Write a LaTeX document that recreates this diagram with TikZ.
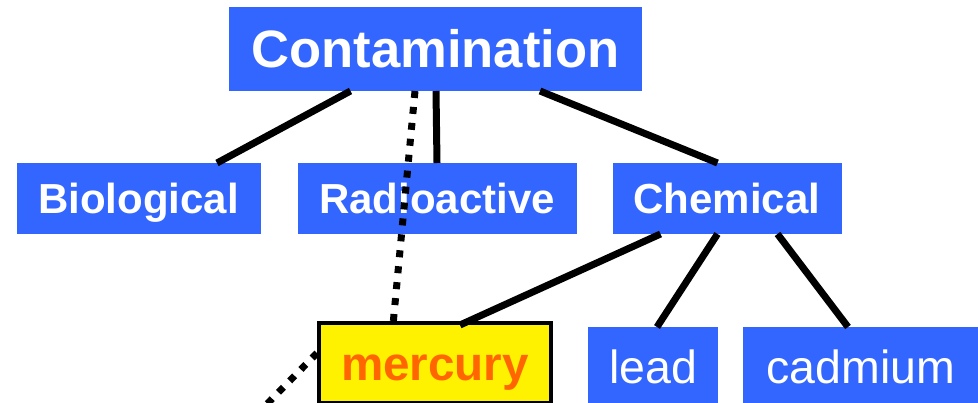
\documentclass[tikz,border=0pt]{standalone}
\usepackage{fontspec}
\setmainfont{Liberation Sans}
\usepackage{tikz}
\usetikzlibrary{positioning}
\definecolor{boxblue}{RGB}{51,102,255}
\definecolor{hgorange}{RGB}{255,102,0}
\tikzset{
b/.style={
  rectangle,
  inner sep=0pt,
  outer sep=0pt,
  align=center,
  fill=boxblue,
  text=white,
  text depth=0pt
  },
t/.style={
  b,
  text height=37.7pt,
  font=\fontsize{52.6}{60}\selectfont\bfseries
  },
m/.style={
  b,
  text height=30pt,
  minimum height=71pt,
  font=\fontsize{42}{50}\selectfont\bfseries
  },
l/.style={
  b,
  text height=33.3pt,
  minimum height=79pt,
  font=\fontsize{46.5}{54}\selectfont
  },
hg/.style={
  b,
  fill=yellow,
  draw=black,
  line width=4pt,
  text=hgorange,
  text height=34.1pt,
  minimum width=232pt,
  minimum height=80pt,
  font=\fontsize{47.6}{55}\selectfont\bfseries
  },
ln/.style={line width=7pt},
dt/.style={line width=7pt,dash pattern=on 7pt off 9pt}
}

\begin{document}
\begin{tikzpicture}[x=1pt,y=-1pt]
            \clip (0,0) rectangle (978,403);
            \node[t,minimum width=413pt,minimum height=84pt] (cont) at (435.5,49) {Contamination};
            \node[m,minimum width=244pt] (bio) at (138.5,198.5) {Biological};
            \node[m,minimum width=279pt] (radio) [right=37pt of bio] {Radioactive};
            \node[m,minimum width=229pt] (chem) [right=36pt of radio] {Chemical};
            \node[hg] (hg) at (435,363) {mercury};
            \node[l,minimum width=130pt] (pb) at (653,366.5) {lead};
            \node[l,minimum width=236pt] (cd) at (861,366.5) {cadmium};
            \coordinate (off) at (220,452);
            \path[ln]
            ([xshift=-85pt]cont.south) edge ([xshift=78.5pt]bio.north)
            ([xshift=0.5pt]cont.south) edge (radio.north)
            ([xshift=104.5pt]cont.south) edge ([xshift=-9.5pt]chem.north)
            ([xshift=-66.5pt]chem.south) edge ([xshift=25pt,yshift=-2pt]hg.north)
            ([xshift=-9.5pt]chem.south) edge ([xshift=4pt]pb.north)
            ([xshift=50.5pt]chem.south) edge ([xshift=-13pt]cd.north)
            ;
            \path[dt]
            ([xshift=-20.5pt]cont.south) edge ([xshift=-42pt,yshift=-2pt]hg.north)
            ([xshift=-2pt,yshift=10pt]hg.west) edge (off)
            ;
        \end{tikzpicture}
\end{document}
